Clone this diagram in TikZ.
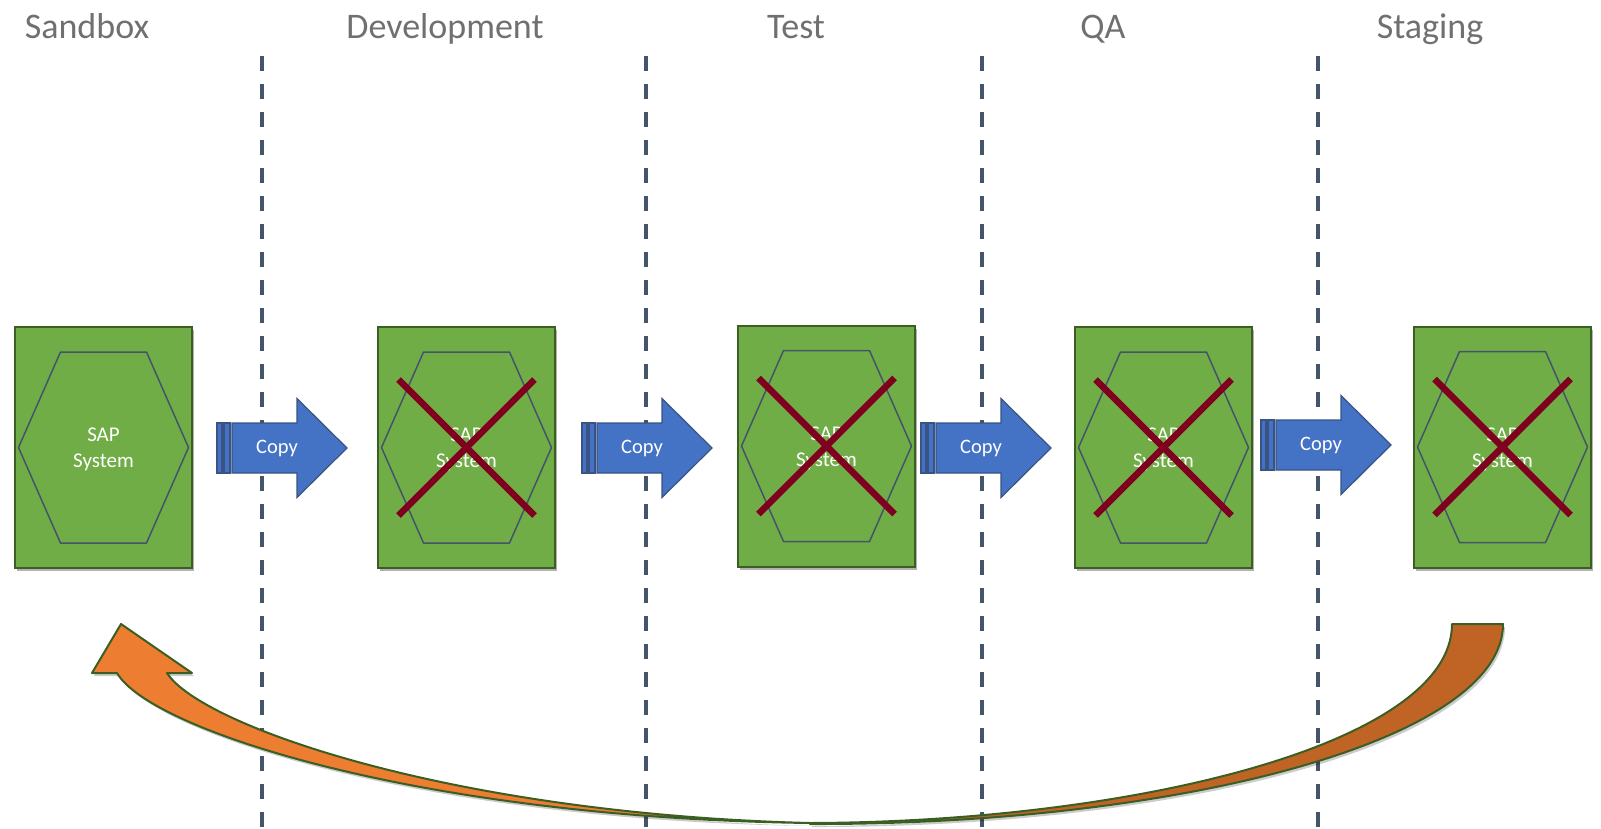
\documentclass[tikz,border=0pt]{standalone}
\usepackage{fontspec}
\setmainfont{Carlito}
\usepackage{xcolor}
\usetikzlibrary{calc}
\usetikzlibrary{shadows}
\usetikzlibrary{positioning}

\definecolor{boxgreen}{HTML}{70AD47}
\definecolor{boxedge}{HTML}{3B5E22}
\definecolor{hexedge}{HTML}{44546A}
\definecolor{copyblue}{HTML}{4472C4}
\definecolor{copyedge}{HTML}{3A5383}
\definecolor{crossred}{RGB}{128,0,32}
\definecolor{backorange}{HTML}{ED7D31}
\definecolor{backdark}{HTML}{C06426}
\definecolor{titlegray}{HTML}{707070}
\definecolor{laneline}{HTML}{44546A}

\tikzset{
	sysbox/.style={draw=boxedge,line width=2pt,fill=boxgreen,minimum width=177pt,minimum height=241pt,inner sep=0pt,
		drop shadow={shadow xshift=2pt,shadow yshift=-3pt,opacity=.3,fill=black}},
	hexa/.style={draw=hexedge,line width=1.5pt,line join=round},
	systext/.style={text=white,align=center,font=\fontsize{21}{26}\selectfont},
	stagetitle/.style={text=titlegray,anchor=base,font=\fontsize{36}{43}\selectfont},
	lane/.style={draw=laneline,line width=4pt,dash pattern=on 15pt off 13pt},
	copyshape/.style={fill=copyblue,draw=copyedge,line width=1.2pt,line join=miter},
	copytext/.style={text=white,font=\fontsize{20.5}{24}\selectfont},
	crossline/.style={draw=crossred,line width=6.5pt},
	backarrow/.style={draw=boxedge,line width=2pt,line join=round}
}

\begin{document}
\begin{tikzpicture}[x=1pt,y=-1pt]
		  \useasboundingbox (0,0) rectangle (1601,828);
		  \foreach \x/\alph/\name in {
		  		87/sbx/Sandbox,
		  		445/dev/Development,
		  		796/tst/Test,
		  		1103/qa/QA,
		  		1430/stg/Staging}{
		  	\node[stagetitle] (t-\alph) at (\x,38.5) {\name};
		  }
		  \foreach \x in {262,646,982,1318}
		  {%
		   \draw[lane] (\x,56) -- (\x,828);%
		  }
		  \foreach \x/\y/\alph in {
		  		103.5/447.5/sbx,
		  		466.5/447.5/dev,
		  		826.5/446/tst,
		  		1163.5/447.5/qa,
		  		1502.5/447/stg}{
		  	\node[sysbox] (\alph) at (\x,\y) {};
		  	\draw[hexa] ([shift={(-85,0)}]\alph.center) -- ([shift={(-43,-95.5)}]\alph.center)
		  		-- ([shift={(43,-95.5)}]\alph.center) -- ([shift={(85,0)}]\alph.center)
		  		-- ([shift={(43,95.5)}]\alph.center) -- ([shift={(-43,95.5)}]\alph.center) -- cycle;
		  	\node[systext] (\alph-sap) at ([shift={(0,2)}]\alph.center) {SAP\\System};
		  }
		  \foreach \alph in {dev,tst,qa,stg}
		  {%
		   \draw[crossline] ([shift={(-68,-68)}]\alph.center) -- ([shift={(68,68)}]\alph.center);%
		   \draw[crossline] ([shift={(68,-68)}]\alph.center) -- ([shift={(-68,68)}]\alph.center);%
		  }
		  \foreach \x/\y/\alph in {
		  		217/448/cp1,
		  		582/448/cp2,
		  		921/448/cp3,
		  		1261/445/cp4}{
		  	\coordinate (\alph) at (\x,\y);
		  	\draw[copyshape] ([shift={(0,-25)}]\alph) rectangle ([shift={(5,25)}]\alph);
		  	\draw[copyshape] ([shift={(7,-25)}]\alph) rectangle ([shift={(13,25)}]\alph);
		  	\draw[copyshape] ([shift={(15,-25)}]\alph) -- ([shift={(80,-25)}]\alph) -- ([shift={(80,-49.5)}]\alph)
		  		-- ([shift={(130,0)}]\alph) -- ([shift={(80,49.5)}]\alph) -- ([shift={(80,25)}]\alph)
		  		-- ([shift={(15,25)}]\alph) -- cycle;
		  	\node[copytext] (\alph-txt) at ([shift={(60,0)}]\alph) {Copy};
		  }
		  \draw[backarrow,fill=backorange,drop shadow={shadow xshift=2pt,shadow yshift=-3pt,opacity=.2,fill=black}]
		  	(121,624) -- (192,673) -- (167,673) .. controls (200,725) and (450,814) .. (810,823)
		  	.. controls (420,818) and (150,730) .. (117,673) -- (92,673) -- cycle;
		  \draw[backarrow,fill=backdark,drop shadow={shadow xshift=2pt,shadow yshift=-3pt,opacity=.2,fill=black}]
		  	(810,823) .. controls (1130,822) and (1452,745) .. (1452,624) -- (1503,624)
		  	.. controls (1503,740) and (1180,825) .. (810,824) -- cycle;
		 \end{tikzpicture}
\end{document}
